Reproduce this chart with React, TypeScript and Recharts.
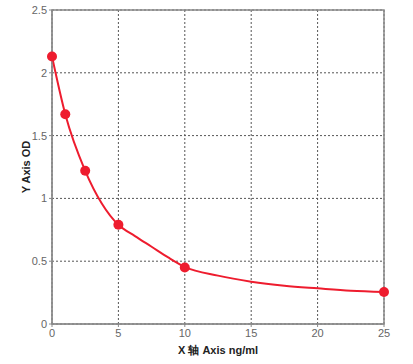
import React from "react";
import {
  ComposedChart,
  Line,
  Scatter,
  XAxis,
  YAxis,
  CartesianGrid,
  ReferenceArea,
  Label,
} from "recharts";

// standard points (concentration ng/ml, OD)
const pointX = [0, 1, 2.5, 5, 10, 25];
const pointY = [2.13, 1.67, 1.22, 0.79, 0.45, 0.255];

// fitted curve
const curveX = [0, 1, 2.5, 3.75, 5, 6.25, 7.5, 8.75, 10, 12.5, 15, 17.5, 20, 22.5, 25];
const curveY = [2.13, 1.67, 1.22, 0.96, 0.79, 0.7, 0.615, 0.53, 0.455, 0.385, 0.337, 0.305, 0.284, 0.265, 0.255];

const xTicks = [0, 5, 10, 15, 20, 25];
const yTicks = [0, 0.5, 1, 1.5, 2, 2.5];

const points = pointX.map((x, i) => ({ x, y: pointY[i] }));
const curve = curveX.map((x, i) => ({ x, y: curveY[i] }));

const RED = "#ee1c2e";
const FONT = "Liberation Sans, Arial, sans-serif";
const tickStyle = { fontSize: 11, fill: "#666", fontFamily: FONT };

export default function App() {
  return (
    <div style={{ position: "absolute", left: 0, top: 0, width: 413, height: 364, background: "#fff" }}>
      <ComposedChart
        width={413}
        height={364}
        margin={{ top: 10, right: 29, bottom: 0, left: 12 }}
      >
        <CartesianGrid
          xAxisId="b"
          yAxisId="l"
          stroke="#555"
          strokeDasharray="2 2"
        />
        <XAxis
          xAxisId="b"
          type="number"
          dataKey="x"
          domain={[0, 25]}
          ticks={xTicks}
          height={40}
          stroke="#888"
          tick={tickStyle}
          tickSize={3}
          interval={0}
        >
          <Label
            value="X 轴 Axis ng/ml"
            position="insideBottom"
            offset={10}
            style={{ fontSize: 11, fontWeight: "bold", fill: "#222", fontFamily: FONT }}
          />
        </XAxis>
        <YAxis
          yAxisId="l"
          type="number"
          domain={[0, 2.5]}
          ticks={yTicks}
          width={40}
          stroke="#888"
          tick={tickStyle}
          tickSize={3}
          interval={0}
        >
          <Label
            value="Y Axis OD"
            angle={-90}
            position="insideLeft"
            offset={14}
            style={{ textAnchor: "middle", fontSize: 11, fontWeight: "bold", fill: "#222", fontFamily: FONT }}
          />
        </YAxis>
        <ReferenceArea
          xAxisId="b"
          yAxisId="l"
          x1={0}
          x2={25}
          y1={0}
          y2={2.5}
          fill="none"
          fillOpacity={0}
          stroke="#888"
          strokeWidth={1.5}
          strokeOpacity={1}
        />
        <Line
          xAxisId="b"
          yAxisId="l"
          data={curve}
          dataKey="y"
          type="monotone"
          stroke={RED}
          strokeWidth={2}
          dot={false}
          activeDot={false}
          isAnimationActive={false}
        />
        <Scatter
          xAxisId="b"
          yAxisId="l"
          data={points}
          dataKey="y"
          fill={RED}
          shape={(p: any) => <circle cx={p.cx} cy={p.cy} r={5} fill={RED} />}
          isAnimationActive={false}
        />
      </ComposedChart>
    </div>
  );
}
